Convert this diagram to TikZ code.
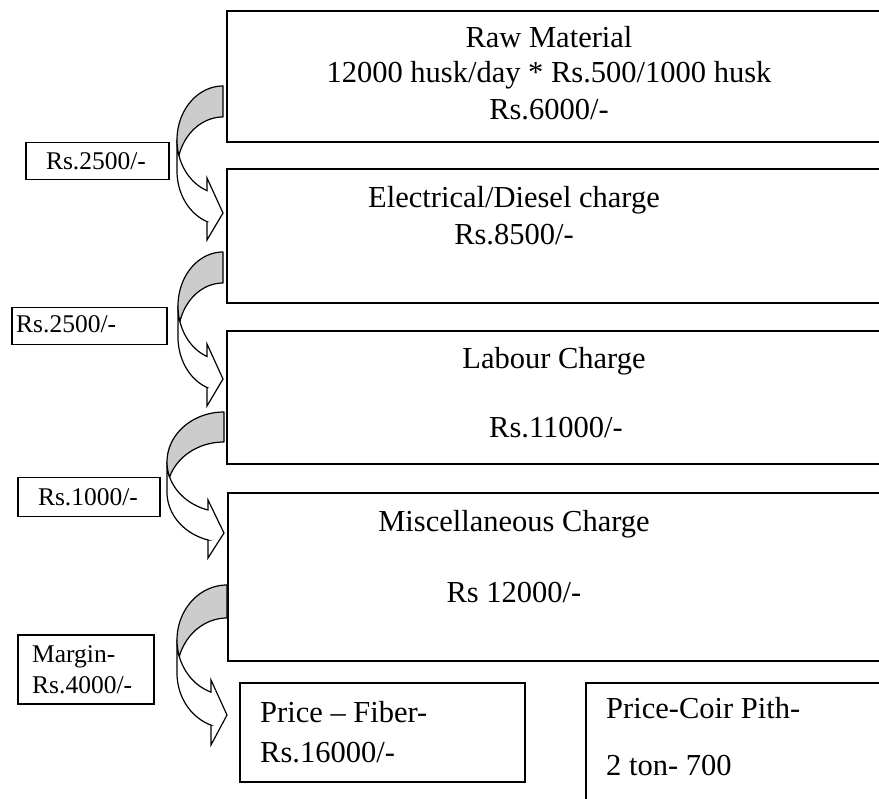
\documentclass[tikz,border=0pt]{standalone}
\usepackage{fontspec}
\setmainfont{Liberation Serif}
\tikzset{
  boxline/.style={draw, line width=1.6pt, rectangle, inner sep=0pt, anchor=north west},
  lblbox/.style={draw, line width=1.5pt, rectangle, inner sep=0pt, anchor=north west},
  maintxt/.style={inner sep=0pt, anchor=base, font=\fontsize{30.5}{36}\selectfont},
  maintxtl/.style={inner sep=0pt, anchor=base west, font=\fontsize{30.5}{36}\selectfont},
  lbltxt/.style={inner sep=0pt, anchor=base, font=\fontsize{25.5}{31}\selectfont},
  lbltxtl/.style={inner sep=0pt, anchor=base west, font=\fontsize{25.5}{31}\selectfont},
  backband/.style={draw, line width=1.2pt, fill=black!20, line join=round},
  frontband/.style={draw, line width=1.2pt, fill=white, line join=miter},
}
% curved right arrow (two equal ellipses offset vertically)
% #1 R (tip x), #2 T (top), #3 W, #4 hR, #5 th, #6 top barb, #7 tip, #8 bottom barb (offsets from T)
\newcommand\curvedarr[8]{%
  \pgfmathsetmacro\cA{#2+#4}%
  \pgfmathsetmacro\cB{#2+#4+#5}%
  \pgfmathsetmacro\ta{acos(-16/#3)}%
  \pgfmathsetmacro\tb{asin(#5/(2*#4))}%
  \pgfmathsetmacro\aEnd{-180-\tb}%
  \pgfmathsetmacro\bStart{180+\tb}%
  \filldraw[frontband] plot[domain=180:\ta, samples=40] ({#1+#3*cos(\x)},{\cA+#4*sin(\x)})
     -- ({#1-16},{#2+#6}) -- (#1,{#2+#7}) -- ({#1-16},{#2+#8})
     -- ({#1-16},{\cB+#4*sin(\ta)})
     -- plot[domain=\ta:180, samples=40] ({#1+#3*cos(\x)},{\cB+#4*sin(\x)}) -- cycle;
  \filldraw[backband] plot[domain=-90:\aEnd, samples=50] ({#1+#3*cos(\x)},{\cA+#4*sin(\x)})
     -- plot[domain=\bStart:270, samples=50] ({#1+#3*cos(\x)},{\cB+#4*sin(\x)}) -- cycle;
}
\begin{document}
\begin{tikzpicture}[x=1pt, y=-1pt]
\useasboundingbox (0,0) rectangle (879,799);
\clip (0,0) rectangle (879,799);
% main boxes
\node[boxline, minimum width=720pt, minimum height=131pt] (b1) at (226,10) {};
\node[boxline, minimum width=720pt, minimum height=134pt] (b2) at (226,168) {};
\node[boxline, minimum width=720pt, minimum height=133pt] (b3) at (226,330) {};
\node[boxline, minimum width=720pt, minimum height=168pt] (b4) at (227,492) {};
\node[boxline, minimum width=285pt, minimum height=99pt] (b5) at (239,682) {};
\node[boxline, minimum width=400pt, minimum height=200pt] (b6) at (585,682) {};
% label boxes
\node[lblbox, minimum width=143pt, minimum height=37pt] (l1) at (25,142) {};
\node[lblbox, minimum width=155pt, minimum height=37pt] (l2) at (11,307) {};
\node[lblbox, minimum width=142pt, minimum height=39pt] (l3) at (17,477) {};
\node[lblbox, minimum width=136pt, minimum height=69pt] (l4) at (17,634) {};
% main texts
\node[maintxt] (t1a) at (549,48) {Raw Material};
\node[maintxt] (t1b) at (549,83) {12000 husk/day * Rs.500/1000 husk};
\node[maintxt] (t1c) at (549,120) {Rs.6000/-};
\node[maintxt] (t2a) at (514,208) {Electrical/Diesel charge};
\node[maintxt] (t2b) at (514,245) {Rs.8500/-};
\node[maintxt] (t3a) at (554,369) {Labour Charge};
\node[maintxt] (t3b) at (556,438) {Rs.11000/-};
\node[maintxt] (t4a) at (514,532) {Miscellaneous Charge};
\node[maintxt] (t4b) at (514,602) {Rs 12000/-};
\node[maintxtl] (t5a) at (260,722) {Price – Fiber-};
\node[maintxtl] (t5b) at (260,762) {Rs.16000/-};
\node[maintxtl] (t6a) at (606,718) {Price-Coir Pith-};
\node[maintxtl] (t6b) at (606,775) {2 ton- 700};
% label texts
\node[lbltxt] (s1) at (96,170) {Rs.2500/-};
\node[lbltxtl] (s2) at (16,333) {Rs.2500/-};
\node[lbltxt] (s3) at (88,506) {Rs.1000/-};
\node[lbltxtl] (s4a) at (32,662) {Margin-};
\node[lbltxtl] (s4b) at (32,693) {Rs.4000/-};
% curved arrows
\curvedarr{223}{86}{46}{54}{31}{92}{127}{154}
\curvedarr{223}{252}{45}{54}{31}{92}{127}{154}
\curvedarr{224}{412}{57}{50}{30}{88}{121}{146}
\curvedarr{227}{585}{50}{55}{33}{95}{130}{160}
\end{tikzpicture}
\end{document}
